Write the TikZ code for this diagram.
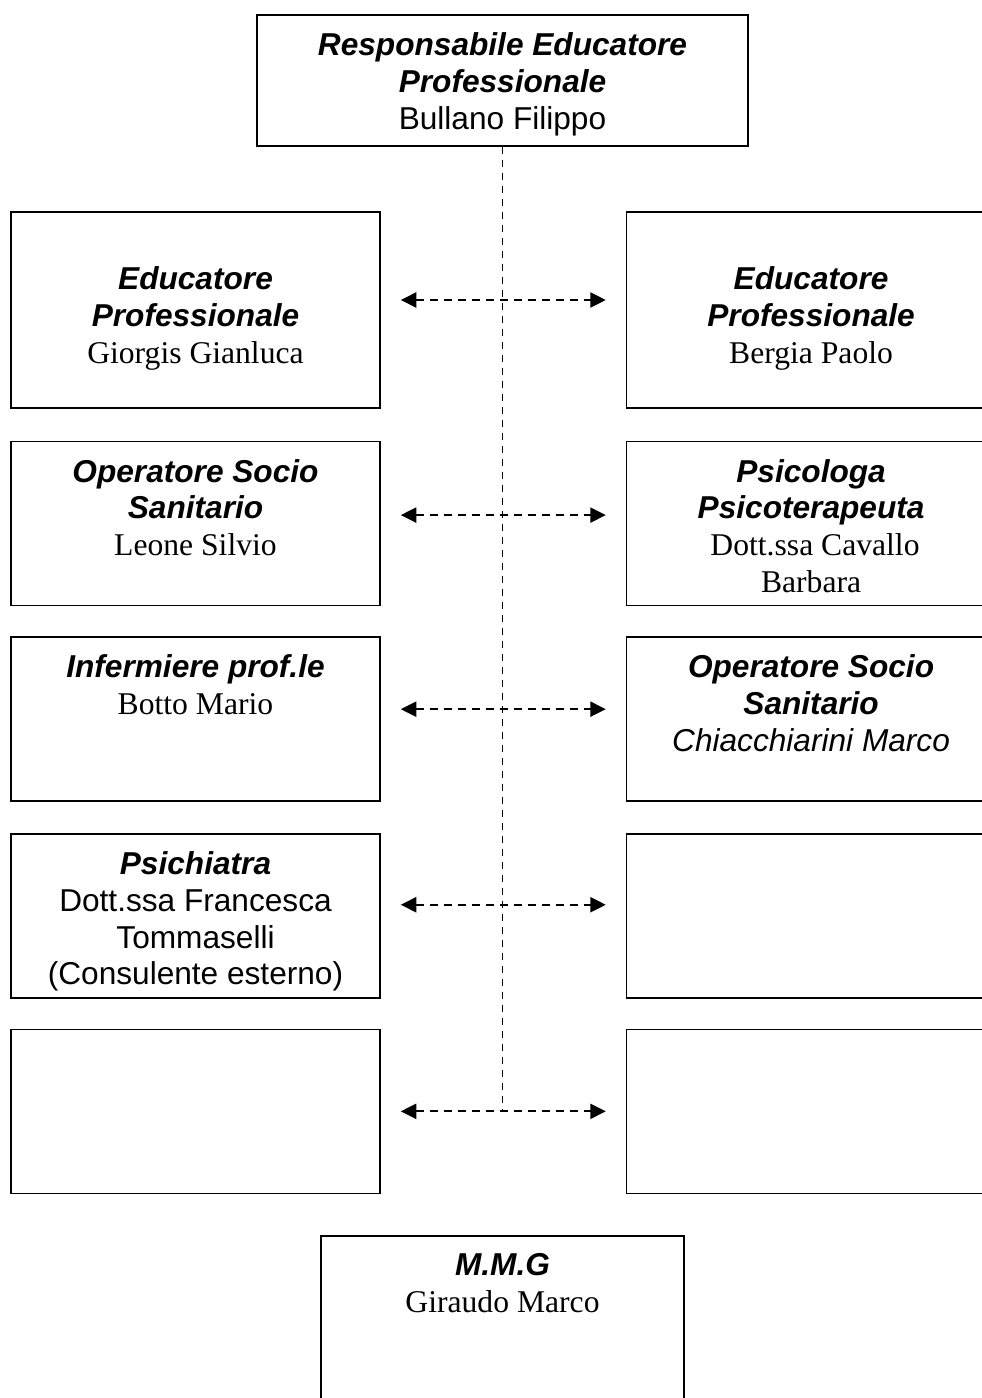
\documentclass[tikz,border=0pt]{standalone}
\usepackage{fontspec}
\setmainfont{Liberation Serif}
\setsansfont{Liberation Sans}
\usetikzlibrary{positioning,arrows.meta}

\tikzset{
  box/.style = {draw, line width=0.9pt, minimum width=7.38cm, minimum height=3.28cm, inner sep=0pt},
  txt/.style = {align=center, inner sep=0pt, font=\fontsize{18}{21}\selectfont},
  link/.style = {dashed, dash pattern=on 0.16cm off 0.12cm, line width=1.3pt, shorten <=0.4cm, shorten >=0.4cm},
}
\newcommand{\ruolo}[1]{{\sffamily\bfseries\itshape #1}}

\begin{document}
\begin{tikzpicture}[> = {Triangle[length=0.31cm,width=0.3cm]}]
\useasboundingbox (0,0) rectangle (19.64,-27.96);
\clip (0,0) rectangle (19.64,-27.96);

\node (resp) [box, minimum width=9.82cm, minimum height=2.62cm] at (10.05,-1.61) {};

% colonna sinistra
\node (lft1) [box, minimum height=3.92cm] at (3.91,-6.2) {};
\node (lft2) [box, below=0.64cm of lft1] {};
\node (lft3) [box, below=0.6cm of lft2] {};
\node (lft4) [box, below=0.62cm of lft3] {};
\node (lft5) [box, below=0.6cm of lft4] {};

% colonna destra
\node (rgt1) [box, minimum height=3.92cm, right=4.9cm of lft1] {};
\node (rgt2) [box, right=4.9cm of lft2] {};
\node (rgt3) [box, right=4.9cm of lft3] {};
\node (rgt4) [box, right=4.9cm of lft4] {};
\node (rgt5) [box, right=4.9cm of lft5] {};

\coordinate (mmgtop) at (resp.south |- lft5.south);
\node (mmg) [box, minimum width=7.26cm, minimum height=4cm, below=0.82cm of mmgtop] {};

% testi
\node (respt) [txt, below=0.36cm of resp.north] {\ruolo{Responsabile Educatore} \\ \ruolo{Professionale} \\ \sffamily Bullano Filippo};
\node (lft1t) [txt, below=1.1cm of lft1.north] {\ruolo{Educatore} \\ \ruolo{Professionale} \\ Giorgis Gianluca};
\node (rgt1t) [txt, below=1.1cm of rgt1.north] {\ruolo{Educatore} \\ \ruolo{Professionale} \\ Bergia Paolo};
\node (lft2t) [txt, below=0.36cm of lft2.north] {\ruolo{Operatore Socio} \\ \ruolo{Sanitario} \\ Leone Silvio};
\node (rgt2t) [txt, below=0.36cm of rgt2.north] {\ruolo{Psicologa} \\ \ruolo{Psicoterapeuta} \\ \ Dott.ssa Cavallo \\ Barbara};
\node (lft3t) [txt, below=0.36cm of lft3.north] {\ruolo{Infermiere prof.le} \\ Botto Mario};
\node (rgt3t) [txt, below=0.36cm of rgt3.north] {\ruolo{Operatore Socio} \\ \ruolo{Sanitario} \\ \sffamily\itshape Chiacchiarini Marco};
\node (lft4t) [txt, below=0.36cm of lft4.north] {\ruolo{Psichiatra} \\ \sffamily Dott.ssa Francesca \\ \sffamily Tommaselli \\ \sffamily (Consulente esterno)};
\node (mmgt) [txt, below=0.36cm of mmg.north] {\ruolo{M.M.G} \\ Giraudo Marco};

\coordinate (hub) at (resp.south |- lft5.east);

\draw[dashed, line width=0.6pt, dash pattern=on 0.15cm off 0.11cm] (resp) to (hub);

\draw[<->,link] ([yshift=0.2cm]lft1.east) to ([yshift=0.2cm]rgt1.west);
\draw[<->,link] ([yshift=0.17cm]lft2.east) to ([yshift=0.17cm]rgt2.west);
\draw[<->,link] ([yshift=0.2cm]lft3.east) to ([yshift=0.2cm]rgt3.west);
\draw[<->,link] ([yshift=0.22cm]lft4.east) to ([yshift=0.22cm]rgt4.west);
\draw[<->,link] (lft5) to (rgt5);
\end{tikzpicture}
\end{document}
